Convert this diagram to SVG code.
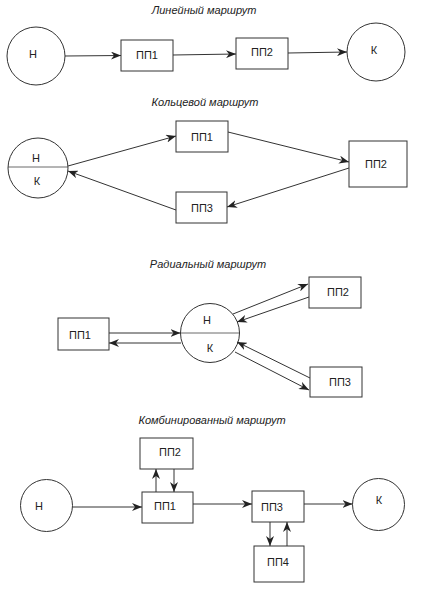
<svg xmlns="http://www.w3.org/2000/svg" width="431" height="597" viewBox="0 0 431 597">
<style>
.bg{fill:#ffffff}
.n{fill:#fff;stroke:#333;stroke-width:1}
.d{stroke:#444;stroke-width:0.8;fill:none}
.t{font-family:"Liberation Sans",Arial,sans-serif;font-size:11px;fill:#222;text-anchor:middle}
.h{font-family:"Liberation Sans",Arial,sans-serif;font-size:11px;font-style:italic;fill:#222;text-anchor:middle}
.c{stroke:#333;stroke-width:1;fill:none;marker-end:url(#a)}
</style>
<defs>
<marker id="a" markerWidth="10" markerHeight="8" refX="10" refY="4" orient="auto" markerUnits="userSpaceOnUse">
<path d="M0,0 L10,4 L0,8 L3,4 z" fill="#222"/>
</marker>
</defs>
<rect class="bg" x="0" y="0" width="431" height="597"/>

<text class="h" x="204" y="14">Линейный маршрут</text>
<text class="h" x="205" y="106">Кольцевой маршрут</text>
<text class="h" x="208" y="268">Радиальный маршрут</text>
<text class="h" x="212" y="424">Комбинированный маршрут</text>

<!-- Section 1 -->
<g id="l-n"><circle class="n" cx="36" cy="56" r="29"/><text class="t" x="33" y="58">Н</text></g>
<g id="l-pp1"><rect class="n" x="121" y="40" width="52" height="31"/><text class="t" x="147" y="59">ПП1</text></g>
<g id="l-pp2"><rect class="n" x="236" y="38" width="52" height="31"/><text class="t" x="262" y="56">ПП2</text></g>
<g id="l-k"><circle class="n" cx="376" cy="52" r="29"/><text class="t" x="374" y="54">К</text></g>

<!-- Section 2 -->
<g id="r-nk"><circle class="n" cx="38" cy="168" r="30"/><line class="d" x1="8" y1="167" x2="68" y2="167"/><text class="t" x="36" y="162">Н</text><text class="t" x="37" y="185">К</text></g>
<g id="r-pp1"><rect class="n" x="176" y="121" width="52" height="31"/><text class="t" x="202" y="141">ПП1</text></g>
<g id="r-pp2"><rect class="n" x="349" y="141" width="58" height="46"/><text class="t" x="376" y="168">ПП2</text></g>
<g id="r-pp3"><rect class="n" x="176" y="192" width="51" height="31"/><text class="t" x="202" y="212">ПП3</text></g>

<!-- Section 3 -->
<g id="d-nk"><circle class="n" cx="210" cy="333" r="29.5"/><line class="d" x1="180.5" y1="333" x2="239.5" y2="333"/><text class="t" x="207" y="324">Н</text><text class="t" x="210" y="352">К</text></g>
<g id="d-pp1"><rect class="n" x="58" y="318" width="51" height="32"/><text class="t" x="80" y="339">ПП1</text></g>
<g id="d-pp2"><rect class="n" x="309" y="277" width="52" height="31"/><text class="t" x="338" y="296">ПП2</text></g>
<g id="d-pp3"><rect class="n" x="310" y="367" width="52" height="30"/><text class="t" x="340" y="386">ПП3</text></g>

<!-- Section 4 -->
<g id="c-n"><circle class="n" cx="46.5" cy="505.5" r="26"/><text class="t" x="39" y="510">Н</text></g>
<g id="c-pp1"><rect class="n" x="142" y="492" width="51" height="31"/><text class="t" x="165" y="510">ПП1</text></g>
<g id="c-pp2"><rect class="n" x="140" y="438" width="53" height="31"/><text class="t" x="170" y="456">ПП2</text></g>
<g id="c-pp3"><rect class="n" x="252" y="491" width="52" height="31"/><text class="t" x="272" y="511">ПП3</text></g>
<g id="c-pp4"><rect class="n" x="254" y="546" width="50" height="36"/><text class="t" x="278" y="566">ПП4</text></g>
<g id="c-k"><circle class="n" cx="378.5" cy="504.5" r="26"/><text class="t" x="379" y="504">К</text></g>

<g id="connectors">
<line class="c" x1="65" y1="56" x2="121" y2="55.5"/>
<line class="c" x1="173" y1="55" x2="236" y2="54"/>
<line class="c" x1="288" y1="53" x2="347" y2="52"/>

<line class="c" x1="68" y1="166" x2="176" y2="136"/>
<line class="c" x1="228" y1="132" x2="349" y2="162"/>
<line class="c" x1="349" y1="168" x2="227" y2="207"/>
<line class="c" x1="176" y1="210" x2="68" y2="171"/>

<line class="c" x1="109" y1="333" x2="180.5" y2="333"/>
<line class="c" x1="181" y1="343" x2="109" y2="343"/>
<line class="c" x1="233" y1="314" x2="308" y2="284"/>
<line class="c" x1="309" y1="297" x2="237" y2="322"/>
<line class="c" x1="310" y1="378" x2="237" y2="342"/>
<line class="c" x1="235" y1="352" x2="309" y2="390"/>

<line class="c" x1="72.5" y1="507" x2="142" y2="507"/>
<line class="c" x1="156" y1="492" x2="156" y2="469"/>
<line class="c" x1="174" y1="469" x2="174" y2="492"/>
<line class="c" x1="193" y1="504" x2="252" y2="504"/>
<line class="c" x1="304" y1="504" x2="352.5" y2="504"/>
<line class="c" x1="270" y1="522" x2="270" y2="546"/>
<line class="c" x1="287" y1="546" x2="287" y2="522"/>
</g>
</svg>
